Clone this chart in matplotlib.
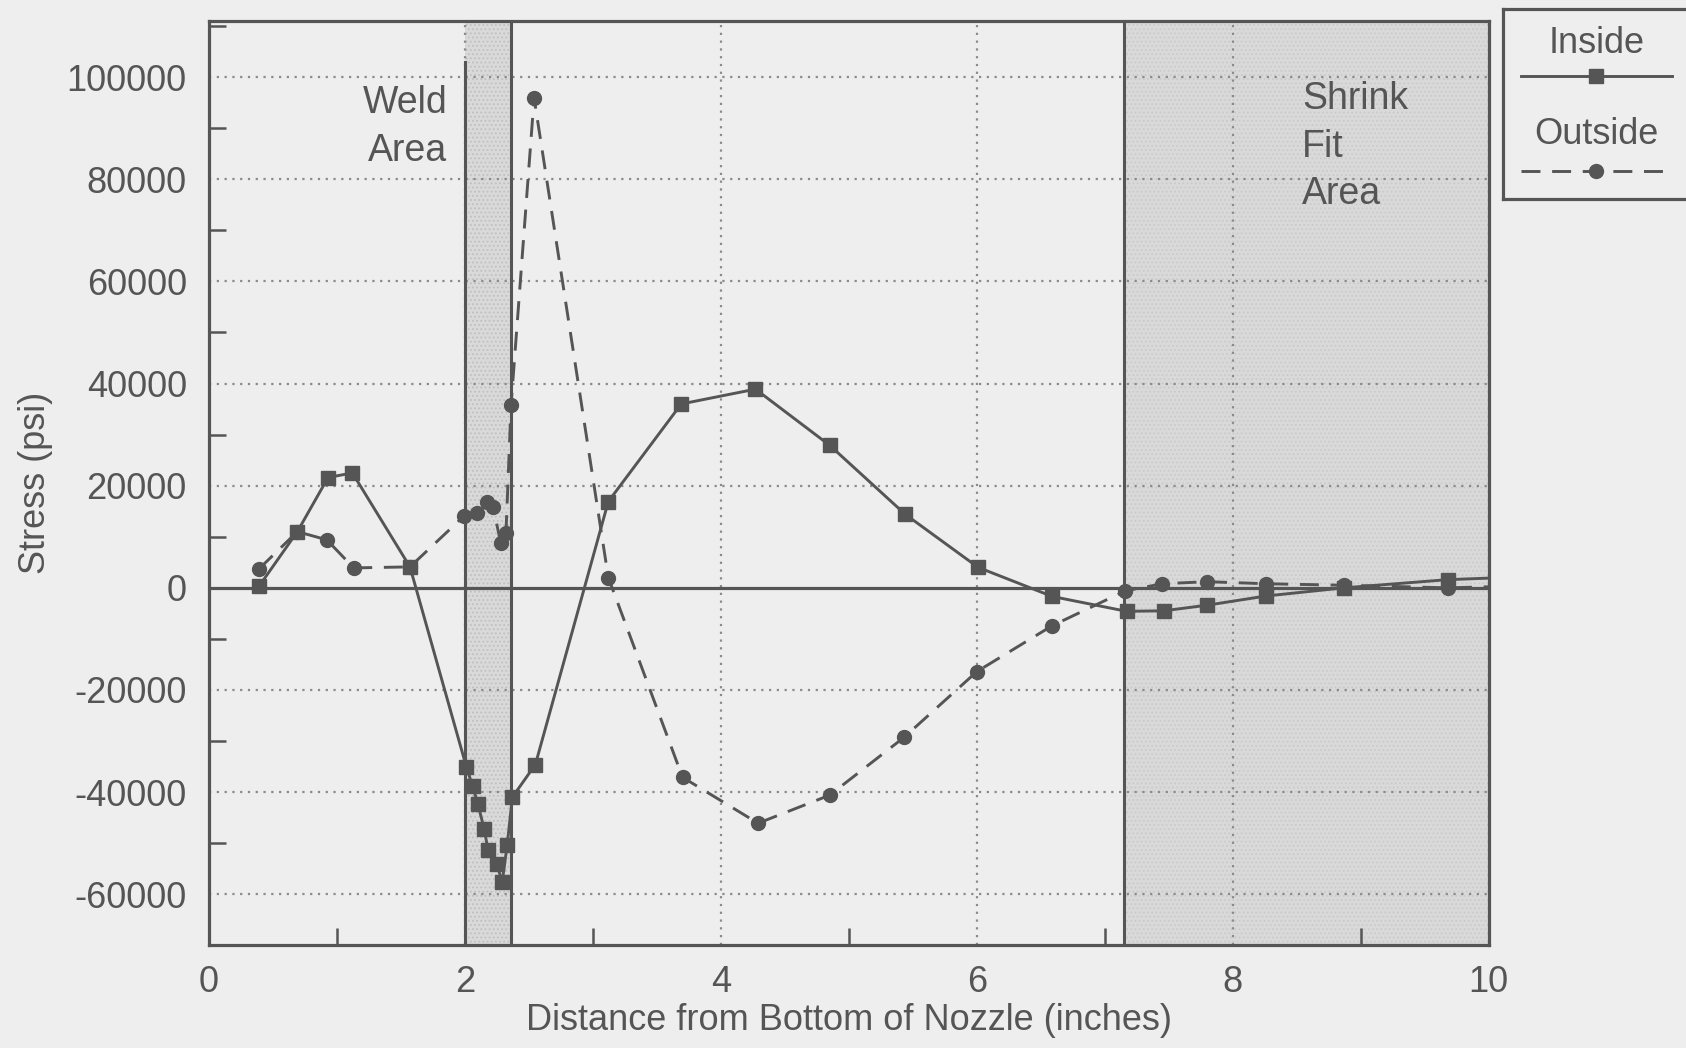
import matplotlib
matplotlib.use("Agg")
import matplotlib.pyplot as plt
from matplotlib.ticker import MultipleLocator, FuncFormatter

plt.rcParams['font.family'] = ['Liberation Sans', 'DejaVu Sans']
plt.rcParams['hatch.linewidth'] = 0.8

# ---- data ----
inside_x = [0.39, 0.69, 0.93, 1.12, 1.57, 2.01, 2.06, 2.10, 2.15, 2.18, 2.25, 2.29,
            2.33, 2.37, 2.55, 3.12, 3.69, 4.27, 4.85, 5.44, 6.01, 6.59, 7.17, 7.46,
            7.80, 8.26, 8.87, 9.68, 10.0]
inside_y = [300, 11000, 21600, 22500, 4100, -35000, -38900, -42300, -47200, -51400,
            -54100, -57700, -50300, -41000, -34600, 16900, 36000, 38900, 27900, 14400,
            4000, -1700, -4600, -4500, -3400, -1600, 0, 1600, 1900]

outside_x = [0.39, 0.69, 0.92, 1.13, 1.57, 1.99, 2.09, 2.17, 2.22, 2.28, 2.32, 2.36,
             2.54, 3.12, 3.70, 4.29, 4.85, 5.43, 6.00, 6.59, 7.16, 7.45, 7.80, 8.26,
             8.87, 9.68, 10.0]
outside_y = [3700, 11000, 9400, 3900, 4100, 14000, 14700, 16800, 15800, 8700, 10700,
             35800, 95900, 2000, -37100, -46100, -40600, -29300, -16400, -7400, -600,
             800, 1200, 800, 500, 0, 200]

weld_area = (2.0, 2.36)
shrink_fit_area = (7.15, 10.0)

x_ticks = [0, 2, 4, 6, 8, 10]
y_ticks = [-60000, -40000, -20000, 0, 20000, 40000, 60000, 80000, 100000]
series_labels = ["Inside", "Outside"]

# ---- styling ----
BG = "#eeeeee"
INK = "#555555"
SHADE = "#d9d9d9"
FS = 26

fig = plt.figure(figsize=(16.86, 10.48), dpi=100, facecolor=BG)
ax = fig.add_axes([0.124, 0.098, 0.759, 0.882], facecolor=BG)

ax.set_xlim(0, 10)
ax.set_ylim(-70000, 111000)

# shaded regions
ax.axvspan(*weld_area, facecolor=SHADE, edgecolor="#c0c0c0", hatch="....", lw=0, zorder=0)
ax.axvspan(*shrink_fit_area, facecolor=SHADE, edgecolor="#cacaca", hatch="....", lw=0, zorder=0)
ax.axvline(weld_area[0], ymin=0, ymax=(103000 + 70000) / 181000, color=INK, lw=2.2, zorder=2)
ax.axvline(weld_area[1], color=INK, lw=2.2, zorder=2)
ax.axvline(shrink_fit_area[0], color=INK, lw=2.2, zorder=2)

# grid
for gx in x_ticks[1:-1]:
    ax.axvline(gx, color="#8a8a8a", lw=1.6, ls=(0, (1, 2.5)), zorder=1)
for gy in y_ticks:
    if gy != 0:
        ax.axhline(gy, color="#8a8a8a", lw=1.6, ls=(0, (1, 2.5)), zorder=1)
ax.axhline(0, color=INK, lw=2.3, zorder=2)

# series
n_in = len(inside_x)
n_out = len(outside_x)
ax.plot(inside_x, inside_y, color=INK, lw=2.1, marker="s", ms=10, mfc=INK, mec=INK,
        markevery=list(range(n_in - 1)), zorder=4, label=series_labels[0])
ax.plot(outside_x, outside_y, color=INK, lw=2.1, ls=(0, (6.5, 4)), marker="o", ms=10,
        mfc=INK, mec=INK, markevery=list(range(n_out - 1)), zorder=4,
        label=series_labels[1])

# annotations
ax.text(1.86, 95000, "Weld", ha="right", va="center", fontsize=27, color=INK)
ax.text(1.86, 85600, "Area", ha="right", va="center", fontsize=27, color=INK)
ax.text(8.54, 95800, "Shrink", ha="left", va="center", fontsize=27, color=INK)
ax.text(8.54, 86400, "Fit", ha="left", va="center", fontsize=27, color=INK)
ax.text(8.54, 77100, "Area", ha="left", va="center", fontsize=27, color=INK)

# axes / ticks
ax.set_xticks(x_ticks)
ax.set_yticks(y_ticks)
ax.xaxis.set_minor_locator(MultipleLocator(1))
ax.yaxis.set_minor_locator(MultipleLocator(10000))
ax.yaxis.set_major_formatter(FuncFormatter(lambda v, p: "%d" % v))
ax.tick_params(axis="both", which="both", direction="in", colors=INK, width=1.8)
ax.tick_params(axis="both", which="major", length=0, labelsize=FS, labelcolor=INK)
ax.tick_params(axis="both", which="minor", length=12)
ax.tick_params(axis="y", which="major", pad=16)
ax.tick_params(axis="x", which="major", pad=14)
for s in ax.spines.values():
    s.set_color(INK)
    s.set_linewidth(2.3)

ax.set_xlabel("Distance from Bottom of Nozzle (inches)", fontsize=FS, color=INK, labelpad=2)
ax.set_ylabel("Stress (psi)", fontsize=FS, color=INK, labelpad=10)

# legend (custom layout: label above its line sample)
lax = fig.add_axes([0.8915, 0.810, 0.2, 0.181], facecolor=BG)
lax.set_xlim(0, 1)
lax.set_ylim(0, 1)
lax.set_xticks([])
lax.set_yticks([])
for s in lax.spines.values():
    s.set_color(INK)
    s.set_linewidth(2.3)
lax.text(0.276, 0.82, series_labels[0], ha="center", va="center", fontsize=FS, color=INK)
lax.plot([0.053, 0.276, 0.50], [0.65, 0.65, 0.65], color=INK, lw=2.1, marker="s",
         ms=10, markevery=[1])
lax.text(0.276, 0.34, series_labels[1], ha="center", va="center", fontsize=FS, color=INK)
lax.plot([0.053, 0.276, 0.50], [0.15, 0.15, 0.15], color=INK, lw=2.1, ls=(0, (6.5, 4)),
         marker="o", ms=10, markevery=[1])

fig.savefig("out.png", dpi=100, facecolor=BG)
